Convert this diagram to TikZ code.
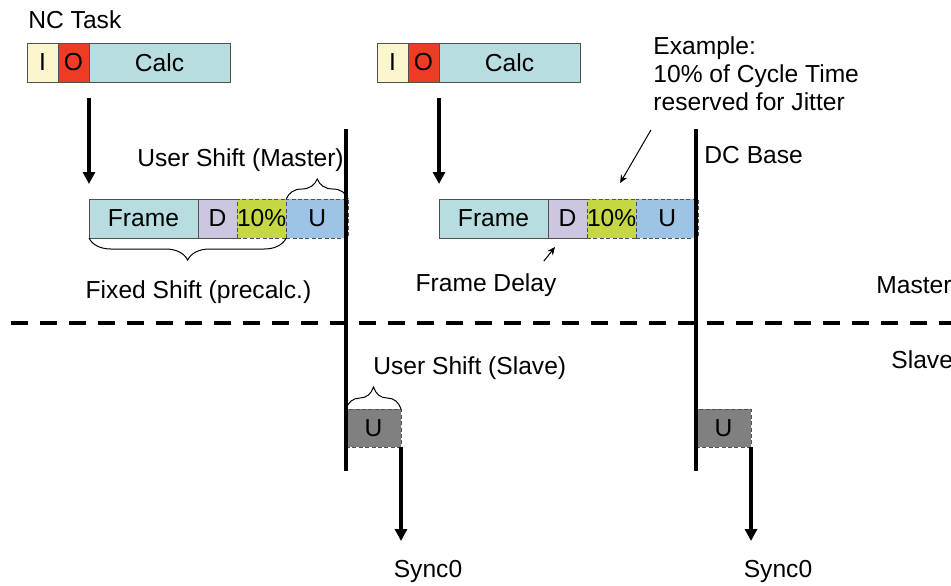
\documentclass[tikz,border=0pt]{standalone}
\usepackage{fontspec}
\setmainfont{Liberation Sans}
\usepackage{tikz}
\usetikzlibrary{arrows.meta,positioning,decorations.pathreplacing}
\definecolor{dcIn}{HTML}{FAF7CF}
\definecolor{dcOut}{HTML}{EE3B24}
\definecolor{dcCalc}{HTML}{B8DDE0}
\definecolor{dcDelay}{HTML}{CCC6E0}
\definecolor{dcJitter}{HTML}{C5D844}
\definecolor{dcUser}{HTML}{9DC3E6}
\definecolor{dcSlave}{HTML}{808080}
\definecolor{dcEdge}{HTML}{505050}
\newcommand{\dcfont}{\fontsize{12.3}{14}\selectfont}
\tikzset{
  slot/.style={rectangle,draw=dcEdge,line width=0.5pt,minimum height=19.5pt,
    inner sep=0pt,outer sep=0pt,anchor=west,font=\dcfont},
  slotdash/.style={slot,dash pattern=on 2pt off 1.2pt},
  tag/.style={inner sep=0pt,font=\dcfont},
  arrow/.style={-{Triangle[length=6pt,width=6pt]},line width=2pt},
  thinarrow/.style={-{Stealth[length=4pt,width=3.5pt]},line width=0.5pt},
  timeline/.style={line width=2pt},
  separator/.style={line width=2pt,dash pattern=on 8.5pt off 6pt,dash phase=9pt},
  bracex/.style={decorate,decoration={brace,amplitude=#1},line width=0.5pt}
}
\begin{document}
\begin{tikzpicture}[x=0.5pt,y=-0.5pt]
  \useasboundingbox (0,0) rectangle (951,585);
  % first cycle
  \node[tag,anchor=west] (nc) at (28,20) {NC Task};
  \node[slot,fill=dcIn,minimum width=15.5pt] (in1) at (27,62.5) {I};
  \node[slot,fill=dcOut,minimum width=15.5pt,right=0pt of in1] (out1) {O};
  \node[slot,fill=dcCalc,minimum width=70.5pt,right=0pt of out1] (calc1) {Calc};
  \node[slot,fill=dcCalc,minimum width=54.5pt] (fr1) at (89,218.5) {Frame};
  \node[slot,fill=dcDelay,minimum width=19.5pt,right=0pt of fr1] (dl1) {D};
  \node[slotdash,fill=dcJitter,minimum width=23.5pt,right=0pt of dl1] (jt1) {10\%};
  \node[slotdash,fill=dcUser,minimum width=31pt,right=0pt of jt1] (us1) {U};
  \node[slotdash,fill=dcSlave,minimum width=27.5pt,minimum height=19pt] (sl1) at (346,428) {U};
  \coordinate (top1) at (346,129);
  \coordinate (bot1) at (346,471);
  \coordinate (tip1) at (401,541);
  \node[tag] (usm) at (240.5,160) {User Shift (Master)};
  \node[tag] (fsh) at (198.5,292) {Fixed Shift (precalc.)};
  \node[tag,anchor=west] (uss) at (373,368) {User Shift (Slave)};
  \node[tag] (sy1) at (428,571) {Sync0};
  % second cycle
  \node[slot,fill=dcIn,minimum width=15.5pt] (in2) at (377,62.5) {I};
  \node[slot,fill=dcOut,minimum width=15.5pt,right=0pt of in2] (out2) {O};
  \node[slot,fill=dcCalc,minimum width=70.5pt,right=0pt of out2] (calc2) {Calc};
  \node[slot,fill=dcCalc,minimum width=54.5pt] (fr2) at (439,218.5) {Frame};
  \node[slot,fill=dcDelay,minimum width=19.5pt,right=0pt of fr2] (dl2) {D};
  \node[slotdash,fill=dcJitter,minimum width=23.5pt,right=0pt of dl2] (jt2) {10\%};
  \node[slotdash,fill=dcUser,minimum width=31pt,right=0pt of jt2] (us2) {U};
  \node[slotdash,fill=dcSlave,minimum width=27.5pt,minimum height=19pt] (sl2) at (696,428) {U};
  \coordinate (top2) at (696,129);
  \coordinate (bot2) at (696,471);
  \coordinate (tip2) at (751,541);
  \node[tag,anchor=north west,align=left] (ex) at (653,36) {Example:\\10\% of Cycle Time\\reserved for Jitter};
  \node[tag,anchor=west] (dcb) at (704,155) {DC Base};
  \node[tag] (fdl) at (486,285) {Frame Delay};
  \node[tag] (sy2) at (778,571) {Sync0};
  % master / slave
  \node[tag,anchor=west] (mst) at (876,285) {Master};
  \node[tag,anchor=west] (slv) at (891,360) {Slave};
  \coordinate (sepl) at (0,323);
  \coordinate (sepr) at (951,323);
  \draw[separator] (sepl) -- (sepr);
  \draw[timeline] (top1) -- (bot1);
  \draw[timeline] (top2) -- (bot2);
  \draw[arrow] ([yshift=-8pt]calc1.south west) -- ([yshift=7.5pt]fr1.north west);
  \draw[arrow] ([yshift=-8pt]calc2.south west) -- ([yshift=7.5pt]fr2.north west);
  \draw[arrow] (sl1.south east) -- (tip1);
  \draw[arrow] (sl2.south east) -- (tip2);
  \draw[bracex=10pt] (us1.north west) -- (us1.north east);
  \draw[bracex=11pt] (jt1.south east) -- (fr1.south west);
  \draw[bracex=11pt] (sl1.north west) -- (sl1.north east);
  \draw[thinarrow] ([shift={(-1pt,-9.5pt)}]ex.south west) -- ([shift={(4.25pt,8pt)}]jt2.north);
  \draw[thinarrow] ([shift={(-6.5pt,6pt)}]fdl.north east) -- ([shift={(3.5pt,-4.5pt)}]dl2.south west);
\end{tikzpicture}
\end{document}
